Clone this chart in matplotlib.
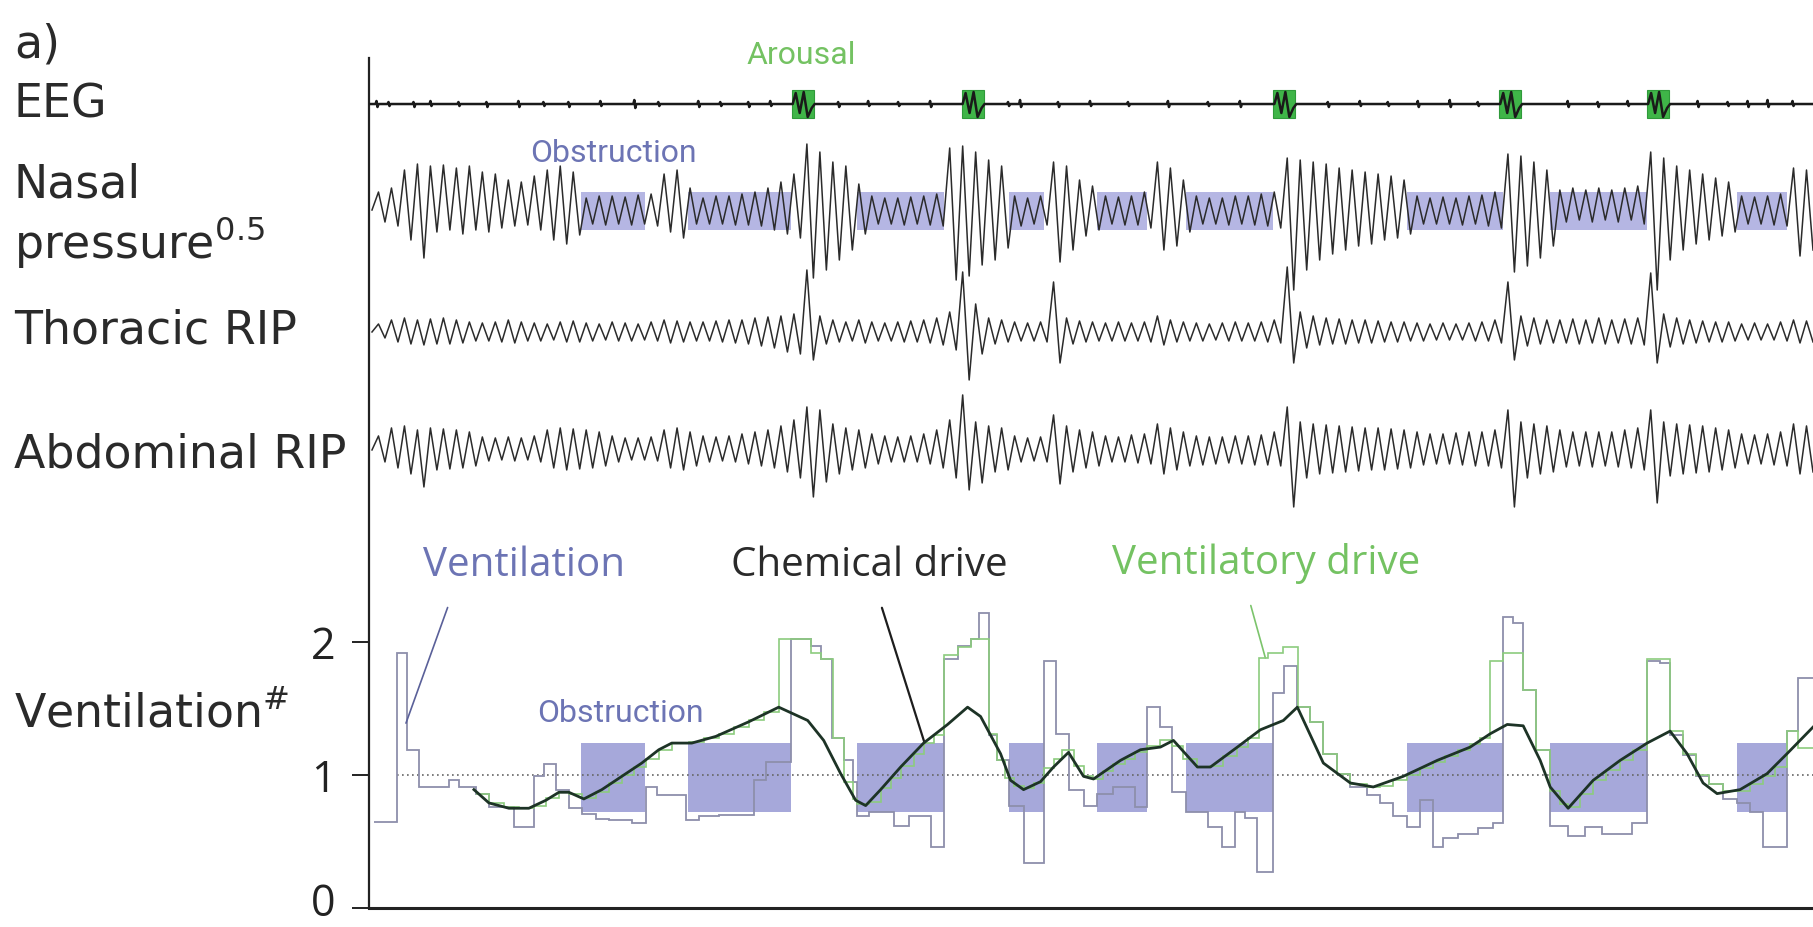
import numpy as np
import matplotlib
matplotlib.use('Agg')
import matplotlib.pyplot as plt
from matplotlib.transforms import ScaledTranslation

plt.rcParams['font.family'] = ['Open Sans', 'DejaVu Sans']
plt.rcParams['mathtext.fontset'] = 'custom'
plt.rcParams['mathtext.rm'] = 'DejaVu Sans'
plt.rcParams['mathtext.it'] = 'DejaVu Sans'

W, H = 1813, 927
PX = 133.0      # pixels of the original per ventilation unit
T_END = 1445    # time base of the recording (arbitrary units)

# ---------------- events ----------------
obst_start = [212, 319, 488, 640, 729, 818, 1039, 1182, 1369]
obst_end = [276, 422, 575, 675, 779, 905, 1135, 1279, 1419]
arousal_t = [434, 604, 916, 1142, 1290]

# ---------------- EEG: small blips (px) and the arousal burst shape ----------------
eeg_blip_t = [8, 20, 45, 62, 90, 118, 150, 175, 200, 232, 266, 290, 330, 352, 380, 402, 470, 500, 530,
              562, 640, 652, 690, 722, 760, 800, 840, 872, 960, 992, 1020, 1050, 1082, 1110, 1200,
              1230, 1260, 1330, 1360, 1380, 1400, 1425]
eeg_blip_up = [3, 2, 2, 3, 2, 2, 3, 2, 2, 3, 4, 2, 3, 2, 2, 3, 2, 3, 2,
               3, 2, 4, 2, 3, 2, 3, 2, 3, 2, 3, 2, 3, 4, 2, 3,
               2, 3, 3, 2, 3, 4, 3]
eeg_blip_dn = [3, 2, 3, 2, 2, 3, 3, 2, 3, 2, 4, 2, 3, 2, 3, 2, 3, 2, 2,
               3, 2, 3, 3, 2, 2, 3, 2, 3, 3, 2, 2, 3, 3, 2, 3,
               3, 2, 3, 2, 3, 3, 2]
burst_dt = [-10, -7, -3, 1, 5, 9, 12]
burst_v = [0, 11, -9, 12, -13, -4, 0]

# ---------------- breath-by-breath excursions (px up / px down) ----------------
nasal_hi = [18, 22, 40, 46, 44, 45, 42, 44, 38, 36, 30, 28, 34, 40, 44, 38,
            12, 14, 14, 13, 15, 16,
            36, 40, 22,
            12, 14, 14, 16, 18, 22, 28, 36,
            66, 58, 48, 44,
            26, 14, 12, 12, 13, 14, 16,
            62, 64, 58, 50, 44,
            14, 12, 14,
            48, 44, 30, 24,
            14, 13, 14, 18,
            48, 42, 30,
            14, 12, 12, 14, 14, 16, 18,
            52, 50, 48, 46, 42, 40, 38, 36, 34, 30,
            14, 12, 13, 12, 14, 15, 18,
            56, 54, 48, 40,
            20, 22, 20, 22, 20, 22, 24,
            58, 52, 44, 40, 36, 32, 28,
            14, 13, 14, 16,
            42, 40]
nasal_lo = [12, 16, 30, 48, 22, 20, 24, 20, 22, 18, 16, 15, 20, 30, 34, 25,
            14, 15, 14, 15, 14, 16,
            22, 28, 14,
            14, 14, 15, 15, 16, 20, 24, 28,
            68, 60, 50, 40,
            24, 14, 14, 15, 14, 15, 16,
            70, 66, 55, 50, 38,
            16, 14, 15,
            52, 40, 26, 20,
            14, 15, 15, 18,
            40, 36, 22,
            14, 14, 15, 14, 15, 16, 18,
            80, 60, 50, 44, 40, 36, 34, 30, 28, 24,
            14, 14, 14, 15, 14, 16, 18,
            62, 56, 48, 36,
            12, 10, 12, 10, 12, 10, 14,
            80, 50, 40, 34, 30, 26, 22,
            14, 14, 15, 16,
            46, 40]

thor_hi = [8, 12, 14, 12, 13, 14, 12, 10, 9, 10, 12, 10, 9, 8, 10, 11,
           9, 8, 10, 9, 8, 10,
           12, 11, 10,
           10, 11, 12, 12, 14, 15, 16, 18,
           62, 16, 12, 10,
           12, 10, 9, 10, 11, 12, 14,
           20, 60, 28, 14, 12,
           10, 9, 10,
           50, 14, 11, 10,
           9, 10, 9, 10,
           16, 12, 10,
           9, 8, 9, 10, 9, 10, 12,
           65, 20, 16, 14, 13, 12, 12, 11, 10, 10,
           9, 8, 9, 8, 9, 10, 12,
           50, 16, 14, 12,
           12, 13, 12, 14, 12, 13, 14,
           59, 18, 14, 12, 11, 10, 10,
           8, 9, 8, 10,
           12, 11]
thor_lo = [6, 10, 12, 13, 12, 12, 11, 9, 9, 10, 11, 9, 9, 8, 10, 10,
           9, 8, 9, 9, 8, 9,
           11, 10, 9,
           9, 10, 11, 12, 14, 16, 20, 22,
           28, 12, 10, 9,
           11, 9, 9, 10, 10, 11, 13,
           18, 48, 22, 12, 10,
           9, 9, 10,
           31, 12, 10, 9,
           9, 9, 9, 10,
           13, 10, 9,
           9, 8, 9, 9, 9, 10, 11,
           31, 16, 13, 12, 12, 11, 11, 10, 10, 9,
           9, 8, 8, 8, 9, 9, 11,
           28, 14, 12, 11,
           11, 12, 11, 12, 11, 12, 13,
           31, 15, 12, 11, 10, 10, 9,
           8, 8, 8, 9,
           11, 10]

abd_hi = [14, 22, 24, 20, 22, 21, 20, 18, 13, 12, 13, 12, 14, 20, 22, 21,
          20, 18, 14, 12, 12, 13,
          20, 22, 18,
          14, 13, 14, 16, 18, 20, 24, 30,
          43, 40, 26, 22,
          20, 16, 14, 13, 14, 16, 20,
          30, 55, 28, 24, 22,
          14, 12, 13,
          35, 24, 20, 18,
          14, 13, 15, 16,
          26, 22, 18,
          14, 13, 13, 14, 14, 15, 18,
          43, 28, 26, 25, 24, 23, 22, 22, 21, 20,
          18, 16, 16, 17, 18, 18, 20,
          40, 28, 26, 24,
          20, 18, 18, 18, 18, 20, 22,
          40, 28, 26, 25, 24, 22, 20,
          16, 15, 16, 18,
          26, 24]
abd_lo = [12, 18, 24, 37, 20, 19, 18, 16, 11, 10, 11, 10, 12, 18, 20, 19,
          18, 16, 12, 10, 10, 11,
          18, 20, 16,
          12, 11, 12, 14, 16, 18, 22, 28,
          47, 32, 24, 20,
          18, 14, 12, 12, 12, 14, 18,
          28, 40, 33, 22, 20,
          12, 11, 12,
          34, 22, 18, 16,
          12, 12, 13, 14,
          24, 20, 16,
          15, 14, 13, 14, 15, 15, 16,
          57, 28, 24, 23, 22, 21, 20, 20, 19, 18,
          15, 14, 14, 15, 16, 16, 18,
          57, 28, 24, 22,
          17, 16, 17, 16, 17, 18, 20,
          53, 26, 24, 23, 22, 20, 18,
          14, 14, 15, 16,
          24, 22]

# ---------------- ventilation panel ----------------
vent_t = [5, 28, 38, 50, 80, 90, 107, 120, 145, 165, 175, 187, 200, 213, 227, 240, 263, 277, 288, 317,
          330, 350, 385, 397, 422, 442, 452, 463, 475, 484, 488, 500, 525, 540, 562, 575, 589, 602, 610,
          620, 628, 640, 655, 675, 687, 700, 715, 729, 745, 767, 779, 792, 804, 818, 840, 854, 867, 877,
          889, 905, 916, 929, 942, 955, 969, 982, 999, 1012, 1025, 1039, 1052, 1065, 1075, 1090, 1110,
          1125, 1135, 1145, 1155, 1168, 1182, 1200, 1217, 1234, 1264, 1279, 1292, 1302, 1315, 1328,
          1341, 1355, 1369, 1382, 1395, 1419, 1430]
vent_v = [0.65, 1.92, 1.19, 0.91, 0.96, 0.91, 0.86, 0.76, 0.61, 0.99, 1.08, 0.89, 0.75, 0.71, 0.67, 0.66,
          0.64, 0.91, 0.85, 0.66, 0.69, 0.70, 0.96, 1.10, 2.02, 1.97, 1.87, 1.28, 1.11, 0.95, 0.69, 0.72,
          0.62, 0.69, 0.46, 1.87, 1.97, 2.02, 2.22, 1.30, 1.11, 0.77, 0.34, 1.86, 1.31, 0.89, 0.77, 0.86,
          0.91, 0.76, 1.51, 1.36, 0.87, 0.72, 0.61, 0.46, 0.72, 0.68, 0.27, 1.62, 1.82, 1.51, 1.40, 1.16,
          1.01, 0.91, 0.85, 0.79, 0.69, 0.61, 0.81, 0.46, 0.53, 0.56, 0.60, 0.64, 2.19, 2.14, 1.64, 1.19,
          0.62, 0.54, 0.61, 0.56, 0.64, 1.86, 1.84, 1.30, 1.15, 0.99, 0.93, 0.82, 0.79, 0.72, 0.46, 1.33,
          1.73]

drive_t = [107, 120, 135, 150, 165, 177, 190, 200, 213, 227, 240, 253, 265, 277, 290, 303, 320, 335, 350,
           365, 380, 395, 410, 442, 452, 464, 475, 484, 488, 500, 512, 522, 532, 545, 555, 565, 575, 589,
           602, 620, 628, 636, 645, 655, 665, 675, 685, 693, 705, 715, 725, 735, 745, 757, 767, 779, 792,
           804, 815, 829, 842, 855, 869, 880, 891, 900, 915, 930, 942, 955, 969, 982, 999, 1012, 1025,
           1039, 1052, 1065, 1077, 1090, 1102, 1112, 1122, 1135, 1155, 1168, 1182, 1192, 1200, 1212,
           1225, 1238, 1252, 1265, 1279, 1302, 1315, 1328, 1341, 1355, 1369, 1382, 1395, 1407, 1419, 1430]
drive_v = [0.86, 0.79, 0.76, 0.75, 0.77, 0.83, 0.87, 0.86, 0.83, 0.87, 0.94, 1.00, 1.06, 1.12, 1.19, 1.24,
           1.25, 1.28, 1.31, 1.36, 1.41, 1.47, 2.02, 1.92, 1.87, 1.28, 0.95, 0.82, 0.78, 0.80, 0.90, 0.98,
           1.07, 1.16, 1.24, 1.30, 1.90, 1.96, 2.02, 1.31, 1.11, 0.98, 0.92, 0.90, 0.94, 1.05, 1.12, 1.19,
           1.07, 0.99, 0.97, 1.03, 1.08, 1.12, 1.17, 1.22, 1.26, 1.22, 1.12, 1.06, 1.07, 1.14, 1.21, 1.28,
           1.88, 1.92, 1.96, 1.51, 1.40, 1.16, 1.01, 0.93, 0.91, 0.92, 0.96, 1.00, 1.05, 1.10, 1.14, 1.19,
           1.23, 1.28, 1.86, 1.92, 1.64, 1.19, 0.88, 0.78, 0.76, 0.86, 0.96, 1.04, 1.11, 1.19, 1.87, 1.33,
           1.16, 1.00, 0.93, 0.88, 0.88, 0.93, 0.99, 1.06, 1.33, 1.20]

chem_t = [105, 120, 140, 160, 177, 190, 200, 215, 233, 253, 273, 290, 303, 323, 347, 380, 410, 439, 455,
          472, 487, 497, 512, 532, 555, 579, 599, 612, 632, 642, 655, 672, 685, 700, 715, 725, 752, 772,
          792, 805, 829, 842, 869, 892, 915, 929, 955, 982, 1005, 1035, 1069, 1102, 1122, 1139, 1155,
          1172, 1182, 1200, 1225, 1252, 1279, 1302, 1319, 1335, 1349, 1372, 1399, 1419, 1445]
chem_v = [0.89, 0.79, 0.75, 0.75, 0.81, 0.87, 0.87, 0.82, 0.89, 0.99, 1.09, 1.19, 1.24, 1.24, 1.29, 1.40,
          1.51, 1.41, 1.26, 1.01, 0.81, 0.77, 0.89, 1.06, 1.24, 1.38, 1.51, 1.44, 1.16, 0.96, 0.89, 0.95,
          1.06, 1.17, 0.99, 0.97, 1.11, 1.19, 1.21, 1.26, 1.06, 1.06, 1.21, 1.34, 1.41, 1.51, 1.09, 0.94,
          0.91, 0.99, 1.11, 1.21, 1.31, 1.38, 1.37, 1.11, 0.91, 0.75, 0.96, 1.11, 1.24, 1.33, 1.16, 0.94,
          0.86, 0.89, 1.01, 1.16, 1.36]

# baselines of the raw traces (ventilation units)
EEG_Y, NASAL_Y, THOR_Y, ABD_Y = 6.045, 5.248, 4.331, 3.444

TRACE = '#2b2b2b'
OBST = '#a6a8da'
PURPLE = '#6c74b4'
GREEN = '#74c262'


def breaths(hi, lo):
    n = min(len(hi), len(lo))
    t = np.linspace(3, T_END, 2 * n + 1)
    v = np.zeros(2 * n + 1)
    v[1::2] = hi[:n]
    v[2::2] = -np.array(lo[:n])
    return t, v / PX


# EEG points: flat line with blips, plus a burst at every arousal
pts = [(0, 0)]
for t, u, d in zip(eeg_blip_t, eeg_blip_up, eeg_blip_dn):
    pts += [(t - 1.5, 0), (t - 0.5, u), (t + 0.5, -d), (t + 1.5, 0)]
for c in arousal_t:
    pts += [(c + dt, v) for dt, v in zip(burst_dt, burst_v)]
pts.append((T_END, 0))
pts.sort()
eeg_x = np.array([p[0] for p in pts])
eeg_y = EEG_Y + np.array([p[1] for p in pts]) / PX

fig = plt.figure(figsize=(W / 100, H / 100), dpi=100)
ax = fig.add_axes([369 / W, 1 - 908 / H, 1 - 369 / W, (908 - 58) / H])
ax.set_xlim(0, T_END)
ax.set_ylim(0, (908 - 58) / PX)

# obstruction shading (nasal band and ventilation band)
for s, e in zip(obst_start, obst_end):
    ax.fill_between([s, e], NASAL_Y - 20 / PX, NASAL_Y + 18 / PX, color='#b5b6e3', lw=0, zorder=1)
    ax.fill_between([s, e], 0.72, 1.24, color=OBST, lw=0, zorder=1)

# arousal markers on the EEG
ax.bar(arousal_t, 28 / PX, bottom=EEG_Y - 14 / PX, width=22, color='#3fb548',
       edgecolor='#2f9a3a', lw=0.8, zorder=2)

# raw traces
ax.plot(eeg_x, eeg_y, color='#1a1a1a', lw=1.8, zorder=3)
for hi, lo, y0 in [(nasal_hi, nasal_lo, NASAL_Y), (thor_hi, thor_lo, THOR_Y), (abd_hi, abd_lo, ABD_Y)]:
    t, v = breaths(hi, lo)
    ax.plot(t, y0 + v, color=TRACE, lw=1.1, zorder=3)

# ventilation panel
ax.hlines(1, 28, T_END, colors='#666666', linestyles=(0, (1, 2)), lw=1.2, zorder=2)
ax.stairs(vent_v, vent_t + [T_END], baseline=None, color='#8d8fab', lw=1.3, zorder=3)
ax.stairs(drive_v, drive_t + [T_END], baseline=None, color='#8ccc7e', lw=1.2, zorder=4)
ax.plot(chem_t, chem_v, color='#1d3326', lw=2.0, zorder=5)

# annotations
ax.annotate('Ventilation', xy=(37, 1.39), xytext=(155, 2.57), color=PURPLE, fontsize=29,
            ha='center', va='center', arrowprops=dict(arrowstyle='-', color='#5a6099', lw=1.2,
                                                     shrinkA=14, shrinkB=0, relpos=(0.16, 0)))
ax.annotate('Chemical drive', xy=(556, 1.24), xytext=(501, 2.57), color='#2a2a2a', fontsize=29,
            ha='center', va='center', arrowprops=dict(arrowstyle='-', color='#1d1d1d', lw=1.6,
                                                     shrinkA=14, shrinkB=0, relpos=(0.52, 0)))
ax.annotate('Ventilatory drive', xy=(897, 1.88), xytext=(898, 2.59), color=GREEN, fontsize=29,
            ha='center', va='center', arrowprops=dict(arrowstyle='-', color='#7cc46c', lw=1.2,
                                                     shrinkA=14, shrinkB=0, relpos=(0.43, 0)))
ax.text(252, 1.46, 'Obstruction', color=PURPLE, fontsize=23, ha='center', va='center',
        family='Roboto')
ax.text(245, 5.67, 'Obstruction', color=PURPLE, fontsize=23, ha='center', va='center',
        family='Roboto')
ax.text(433, 6.41, 'Arousal', color=GREEN, fontsize=23, ha='center', va='center', family='Roboto')

# axes styling
for side in ['top', 'right']:
    ax.spines[side].set_visible(False)
ax.spines['left'].set_linewidth(1.6)
ax.spines['bottom'].set_linewidth(2.2)
ax.spines['left'].set_color('#222222')
ax.spines['bottom'].set_color('#222222')
ax.set_xticks([])
ax.set_yticks([0, 1, 2])
ax.tick_params(axis='y', direction='out', length=12, width=1.4, pad=12, labelsize=31,
               colors='#222222')
# nudge the "0" up a little so it stays inside the canvas
zero_lbl = ax.get_yticklabels()[0]
zero_lbl.set_transform(zero_lbl.get_transform() + ScaledTranslation(0, 6 / 72, fig.dpi_scale_trans))

# row labels
labels = [('a)', 57), ('EEG', 117), ('Nasal', 197), ('pressure$^{0.5}$', 258),
          ('Thoracic RIP', 343), ('Abdominal RIP', 468), ('Ventilation$^{\\#}$', 727)]
for txt, base in labels:
    fig.text(14 / W, 1 - base / H, txt, fontsize=33, color='#2a2a2a', ha='left', va='baseline',
             family='DejaVu Sans')

fig.savefig('out.png', dpi=100)
